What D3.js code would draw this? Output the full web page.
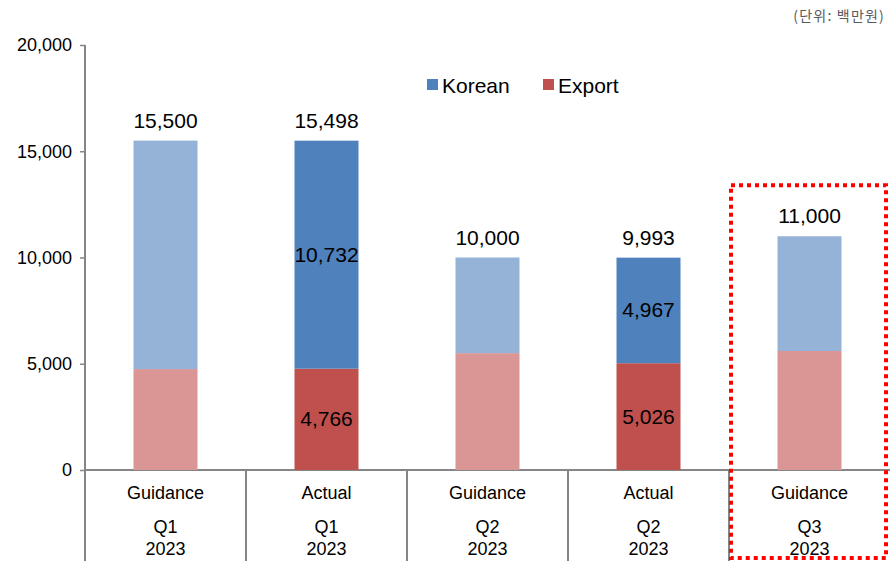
<!DOCTYPE html>
<html>
<head>
<meta charset="utf-8">
<script src="https://cdn.jsdelivr.net/npm/d3@7"></script>
<style>
  body { margin: 0; background: #fff; }
  text { font-family: "Liberation Sans", Arial, sans-serif; }
</style>
</head>
<body>
<div id="chart"></div>
<script>
// data
var kinds = ["Guidance", "Actual", "Guidance", "Actual", "Guidance"];
var quarters = ["Q1", "Q1", "Q2", "Q2", "Q3"];
var years = ["2023", "2023", "2023", "2023", "2023"];
var totals = [15500, 15498, 10000, 9993, 11000];
var exportVals = [4750, 4766, 5500, 5026, 5600];
var koreanVals = [10750, 10732, 4500, 4967, 5400];
var showInner = [false, true, false, true, false];
var yTicks = [0, 5000, 10000, 15000, 20000];

var margin = { top: 45, right: 0, bottom: 91, left: 85 },
    W = 890, H = 561,
    width = W - margin.left - margin.right,
    height = H - margin.top - margin.bottom;

var svg = d3.select("#chart").append("svg")
    .attr("width", W).attr("height", H)
    .append("g")
    .attr("transform", "translate(" + margin.left + "," + margin.top + ")");

var ids = d3.range(kinds.length);
var x = d3.scaleBand().domain(ids).range([0, width]).paddingInner(0).paddingOuter(0);
var y = d3.scaleLinear().domain([0, 20000]).range([height, 0]);
var fmt = d3.format(",");
var barW = 64;

var colors = {
  Actual: { korean: "#4f81bd", export: "#c0504d" },
  Guidance: { korean: "#95b3d7", export: "#d99694" }
};

// y axis
var yAxis = svg.append("g")
    .call(d3.axisLeft(y).tickValues(yTicks).tickFormat(fmt).tickSize(5).tickPadding(8));
yAxis.select(".domain").attr("stroke", "#868686").attr("stroke-width", 2)
    .attr("d", "M0," + (height + 91) + "V0");
yAxis.selectAll(".tick line").attr("stroke", "#868686").attr("stroke-width", 1.5);
yAxis.selectAll(".tick text").attr("font-size", "18px").attr("fill", "#000");

// x baseline + dividers
svg.append("line").attr("x1", 0).attr("x2", width).attr("y1", height).attr("y2", height)
    .attr("stroke", "#868686").attr("stroke-width", 2);
svg.selectAll(".divider").data(ids.slice(1)).enter().append("line")
    .attr("x1", function (d) { return x(d); }).attr("x2", function (d) { return x(d); })
    .attr("y1", height).attr("y2", height + 91)
    .attr("stroke", "#868686").attr("stroke-width", 2);

// bars
var g = svg.selectAll(".bar").data(ids).enter().append("g")
    .attr("transform", function (d) { return "translate(" + (x(d) + x.bandwidth() / 2 - barW / 2) + ",0)"; });

g.append("rect")
    .attr("y", function (d) { return y(exportVals[d]); })
    .attr("width", barW)
    .attr("height", function (d) { return height - y(exportVals[d]); })
    .attr("fill", function (d) { return colors[kinds[d]].export; });
g.append("rect")
    .attr("y", function (d) { return y(exportVals[d] + koreanVals[d]); })
    .attr("width", barW)
    .attr("height", function (d) { return y(exportVals[d]) - y(exportVals[d] + koreanVals[d]); })
    .attr("fill", function (d) { return colors[kinds[d]].korean; });

// total labels
g.append("text")
    .attr("x", barW / 2)
    .attr("y", function (d) { return y(totals[d]) - 13; })
    .attr("text-anchor", "middle").attr("font-size", "21px").attr("fill", "#000")
    .text(function (d) { return fmt(totals[d]); });

// inside labels for actuals
var inner = g.filter(function (d) { return showInner[d]; });
inner.append("text")
    .attr("x", barW / 2)
    .attr("y", function (d) { return y(exportVals[d] + koreanVals[d] / 2) + 7; })
    .attr("text-anchor", "middle").attr("font-size", "21px").attr("fill", "#000")
    .text(function (d) { return fmt(koreanVals[d]); });
inner.append("text")
    .attr("x", barW / 2)
    .attr("y", function (d) { return y(exportVals[d] / 2) + 7; })
    .attr("text-anchor", "middle").attr("font-size", "21px").attr("fill", "#000")
    .text(function (d) { return fmt(exportVals[d]); });

// category labels
var cat = svg.selectAll(".cat").data(ids).enter().append("g")
    .attr("transform", function (d) { return "translate(" + (x(d) + x.bandwidth() / 2) + "," + height + ")"; });
cat.append("text").attr("y", 29).attr("text-anchor", "middle").attr("font-size", "18px")
    .text(function (d) { return kinds[d]; });
cat.append("text").attr("y", 63).attr("text-anchor", "middle").attr("font-size", "18px")
    .text(function (d) { return quarters[d]; });
cat.append("text").attr("y", 85).attr("text-anchor", "middle").attr("font-size", "18px")
    .text(function (d) { return years[d]; });

// highlight box around last category
var last = ids[ids.length - 1];
svg.append("rect")
    .attr("x", x(last) + 2).attr("y", y(11000) - 51)
    .attr("width", x.bandwidth() - 6)
    .attr("height", height + 88 - (y(11000) - 51))
    .attr("fill", "none").attr("stroke", "#ff0000").attr("stroke-width", 4)
    .attr("stroke-dasharray", "4,4");

// legend
var legend = [["Korean", "#4f81bd", 342], ["Export", "#c0504d", 458]];
legend.forEach(function (l) {
  svg.append("rect").attr("x", l[2]).attr("y", 34).attr("width", 11).attr("height", 11).attr("fill", l[1]);
  svg.append("text").attr("x", l[2] + 15).attr("y", 48).attr("font-size", "21px").attr("fill", "#000").text(l[0]);
});

// unit
d3.select("svg").append("text")
    .attr("x", 885).attr("y", 21).attr("text-anchor", "end")
    .attr("font-size", "14px").attr("fill", "#595959")
    .attr("letter-spacing", "1.2px")
    .style("font-family", "'Noto Sans CJK KR', sans-serif")
    .text("(단위: 백만원)");
</script>
</body>
</html>
